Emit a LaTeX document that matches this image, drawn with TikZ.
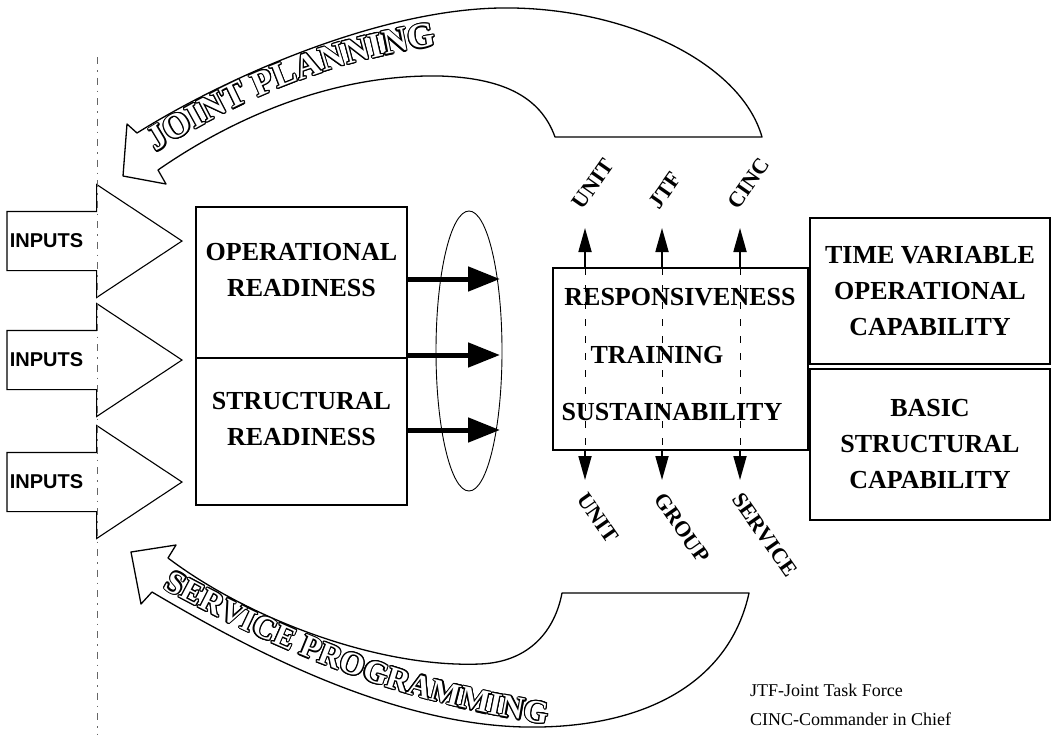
\documentclass[tikz,border=0pt]{standalone}
\usepackage{fontspec}
\setmainfont{Liberation Serif}
\newfontfamily\inputfont{Liberation Sans}
\usepackage{contour}
\contourlength{1.1pt}
\usetikzlibrary{shapes.geometric}
\usetikzlibrary{shapes.arrows}
\usetikzlibrary{positioning}
\usetikzlibrary{arrows.meta}
\usetikzlibrary{decorations.text}
\tikzstyle{block} = [rectangle, draw=black, line width=1.3pt, outer sep=0pt,
inner sep=0pt]
\tikzstyle{heavy} = [font=\fontsize{26}{36}\selectfont\bfseries, align=center,
inner sep=0pt]
\tikzstyle{input} = [single arrow, draw=black, line width=1.1pt, fill=white,
text height=14pt, text depth=0pt, inner xsep=0pt, inner ysep=22pt,
minimum height=175pt, minimum width=112pt, single arrow head extend=27pt,
single arrow tip angle=67, anchor=tip]
\tikzstyle{inputtext} = [font=\inputfont\bfseries\fontsize{20}{20}\selectfont,
inner sep=0pt]
\tikzstyle{tag} = [font=\fontsize{22}{22}\selectfont\bfseries, inner sep=0pt,
anchor=west]
\tikzstyle{note} = [font=\fontsize{18}{18}\selectfont, inner sep=0pt, anchor=west]
\tikzstyle{band} = [draw=black, line width=1.3pt, fill=white, line join=round]
\tikzstyle{feed} = [line width=5pt, -{Triangle[length=32pt,width=24pt]}]
\tikzstyle{level} = [line width=1.8pt, ->]
\tikzstyle{guide} = [black!60, line width=0.8pt,
dash pattern=on 7pt off 6pt on 1.5pt off 6pt]
\tikzstyle{tick} = [line width=1pt, dash pattern=on 7pt off 10pt]
\tikzset{>={Triangle[length=24pt,width=13pt]}}
\newcommand{\hollow}[1]{{\color{white}\contour{black}{#1}}}

\begin{document}
\begin{tikzpicture}[x=1pt, y=-1pt]
				\fill[white] (0,0) rectangle (1056,734);
				\useasboundingbox (0,0) rectangle (1056,734);

				% planning loops
				\draw[band] (123,176) -- (127,124) -- (137,133)
				  .. controls (230,75) and (380,10) .. (500,8)
				  .. controls (620,6) and (740,60) .. (762,137)
				  -- (555,137)
				  .. controls (540,95) and (500,78) .. (440,76)
				  .. controls (330,74) and (230,120) .. (158,170)
				  -- (166,184) -- cycle;
				\path[decorate, decoration={text effects along path,
				  text={JOINT PLANNING}, text effects/.cd, text along path,
				  character command=\hollow,
				  characters={font=\fontsize{35}{35}\selectfont\bfseries, inner sep=0pt}}]
				  (156,152) .. controls (250,94) and (350,50) .. (490,40);

				\draw[band] (131,552) -- (176,545) -- (168,558)
				  .. controls (250,620) and (380,668) .. (480,664)
				  .. controls (530,662) and (555,630) .. (562,593)
				  -- (749,593)
				  .. controls (730,680) and (650,725) .. (540,727)
				  .. controls (400,730) and (250,650) .. (152,592)
				  -- (141,604) -- cycle;
				\path[decorate, decoration={text effects along path,
				  text={SERVICE PROGRAMMING}, text effects/.cd, text along path,
				  character command=\hollow,
				  characters={font=\fontsize{32}{32}\selectfont\bfseries, inner sep=0pt}}]
				  (163,588) .. controls (290,658) and (430,715) .. (600,730);

				% inputs
				\foreach \y/\n in {241/1, 360/2, 482/3} {
				  \node[input] (in\n) at (183,\y) {};
				  \node[inputtext] (tx\n) at ([xshift=40pt]in\n.tail) {INPUTS};
				}
				\coordinate (gtop) at (97,57);
				\coordinate (gbot) at (97,734);
				\draw[guide] (gtop) -- (gbot);

				% readiness
				\node[block, minimum width=211pt, minimum height=151pt] (opr) at (301.5,282.5) {};
				\node[block, minimum width=211pt, minimum height=147pt, below=0pt of opr] (str) {};
				\node[heavy] (oprtext) at ([yshift=12pt]opr.center) {OPERATIONAL\\READINESS};
				\node[heavy] (strtext) at ([yshift=12pt]str.center) {STRUCTURAL\\READINESS};

				\node[ellipse, draw=black, line width=0.9pt, minimum width=66pt,
				  minimum height=280pt, inner sep=0pt] (lens) at (469,351) {};
				\foreach \y/\n in {279/1, 355/2, 430/3} {
				  \coordinate (aim\n) at (500,\y);
				  \draw[feed] (opr.east |- aim\n) -- (aim\n);
				}

				% attributes
				\node[block, minimum width=255pt, minimum height=182pt] (mid) at (680.5,359) {};
				\foreach \x/\t/\n in {585/UNIT/u, 662/JTF/j, 740/CINC/c} {
				  \coordinate (up\n) at (\x,228);
				  \draw[tick] (mid.north -| up\n) -- (mid.south -| up\n);
				  \draw[level] (mid.north -| up\n) -- (up\n);
				  \node[tag, rotate=55] (top\n) at (\x-8,207) {\t};
				}
				\foreach \x/\t/\n in {585/UNIT/u, 662/GROUP/g, 740/SERVICE/s} {
				  \coordinate (dn\n) at (\x,480);
				  \draw[level] (mid.south -| dn\n) -- (dn\n);
				  \node[tag, rotate=-55] (bot\n) at (\x-3,495) {\t};
				}
				\node[heavy] (resp) at (680,297) {RESPONSIVENESS};
				\node[heavy] (train) at (657,355) {TRAINING};
				\node[heavy] (sust) at (672,412) {SUSTAINABILITY};

				% capability
				\node[block, minimum width=240pt, minimum height=146pt, heavy] (tv) at (930,291)
				  {TIME VARIABLE\\OPERATIONAL\\CAPABILITY};
				\node[block, minimum width=240pt, minimum height=151pt, heavy, below=5pt of tv] (bs)
				  {BASIC\\STRUCTURAL\\CAPABILITY};

				\node[note] (jtfnote) at (750,690) {JTF-Joint Task Force};
				\node[note] (cincnote) at (750,719) {CINC-Commander in Chief};
\end{tikzpicture}
\end{document}
